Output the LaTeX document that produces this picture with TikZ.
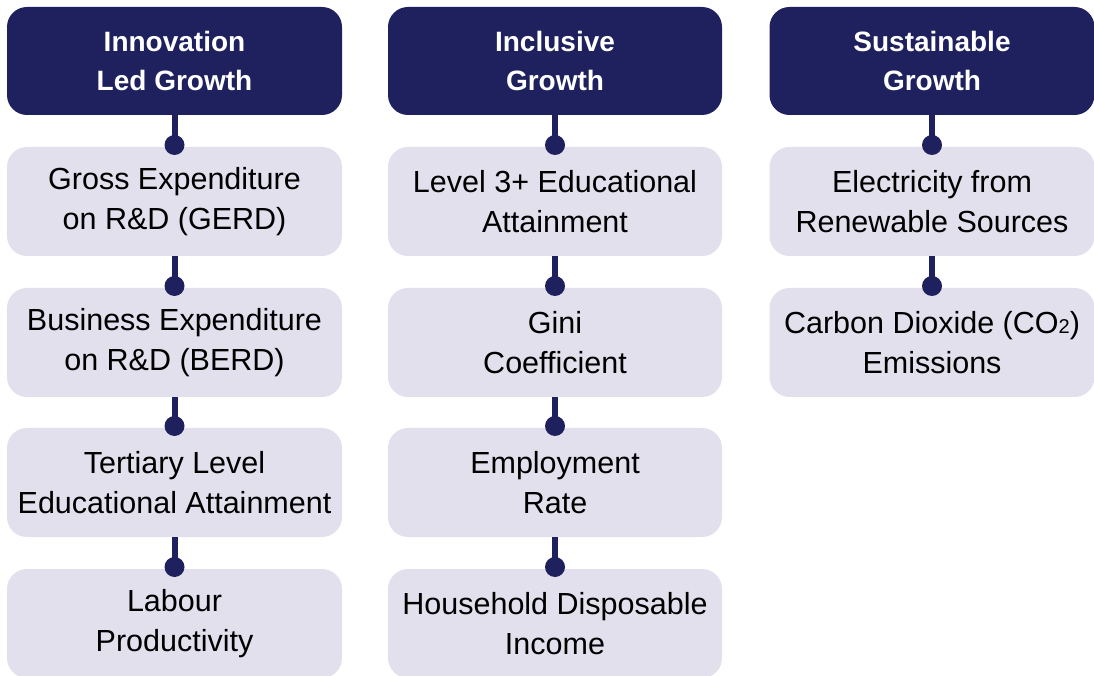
\documentclass[tikz,border=0pt]{standalone}
\usepackage{fontspec}
\setmainfont{Liberation Sans}
\definecolor{navy}{HTML}{1F215E}
\definecolor{pale}{HTML}{E1E0EC}
\begin{document}
\begin{tikzpicture}[x=1pt,y=1pt,
  headbox/.style={fill=navy, rounded corners=20pt, minimum height=108pt,
    inner sep=0pt, text=white, align=center,
    font=\bfseries\fontsize{28}{39}\selectfont},
  itembox/.style={fill=pale, rounded corners=20pt, minimum height=109pt,
    inner sep=0pt, text=black, align=center,
    font=\fontsize{30.5}{39.5}\selectfont},
  joint/.style={circle, fill=navy, minimum size=20pt, inner sep=0pt},
  link/.style={draw=navy, line width=6pt}]
\useasboundingbox (0,0) rectangle (1094,675);
\clip (0,0) rectangle (1094,675);

% column 1: innovation led growth
\node[headbox, minimum width=335pt] (h1) at (174.5,614) {Innovation\\Led Growth};
\node[itembox, minimum width=335pt] (a1) at (174.5,473.5) {Gross Expenditure\\on R\&D (GERD)};
\node[itembox, minimum width=335pt] (a2) at (174.5,332.5) {Business Expenditure\\on R\&D (BERD)};
\node[itembox, minimum width=335pt] (a3) at (174.5,192.5) {Tertiary Level\\Educational Attainment};
\node[itembox, minimum width=335pt] (a4) at (174.5,51.5) {Labour\\Productivity};

% column 2: inclusive growth
\node[headbox, minimum width=334pt] (h2) at (555,614) {Inclusive\\Growth};
\node[itembox, minimum width=334pt] (b1) at (555,473.5) {Level 3+ Educational\\Attainment};
\node[itembox, minimum width=334pt] (b2) at (555,332.5) {Gini\\Coefficient};
\node[itembox, minimum width=334pt] (b3) at (555,192.5) {Employment\\Rate};
\node[itembox, minimum width=334pt] (b4) at (555,51.5) {Household Disposable\\Income};

% column 3: sustainable growth
\node[headbox, minimum width=325pt] (h3) at (932,614) {Sustainable\\Growth};
\node[itembox, minimum width=325pt] (c1) at (932,473.5) {Electricity from\\Renewable Sources};
\node[itembox, minimum width=325pt] (c2) at (932,332.5) {Carbon Dioxide (CO{\fontsize{20}{20}\selectfont 2})\\Emissions};

% joints
\node[joint] (ja1) at (a1.north |- 0,530) {};
\node[joint] (ja2) at (a2.north |- 0,389) {};
\node[joint] (ja3) at (a3.north |- 0,249) {};
\node[joint] (ja4) at (a4.north |- 0,108) {};
\node[joint] (jb1) at (b1.north |- 0,530) {};
\node[joint] (jb2) at (b2.north |- 0,389) {};
\node[joint] (jb3) at (b3.north |- 0,249) {};
\node[joint] (jb4) at (b4.north |- 0,108) {};
\node[joint] (jc1) at (c1.north |- 0,530) {};
\node[joint] (jc2) at (c2.north |- 0,389) {};

% connectors
\draw[link] (h1.south) -- (ja1.center);
\draw[link] (a1.south) -- (ja2.center);
\draw[link] (a2.south) -- (ja3.center);
\draw[link] (a3.south) -- (ja4.center);
\draw[link] (h2.south) -- (jb1.center);
\draw[link] (b1.south) -- (jb2.center);
\draw[link] (b2.south) -- (jb3.center);
\draw[link] (b3.south) -- (jb4.center);
\draw[link] (h3.south) -- (jc1.center);
\draw[link] (c1.south) -- (jc2.center);
\end{tikzpicture}
\end{document}
